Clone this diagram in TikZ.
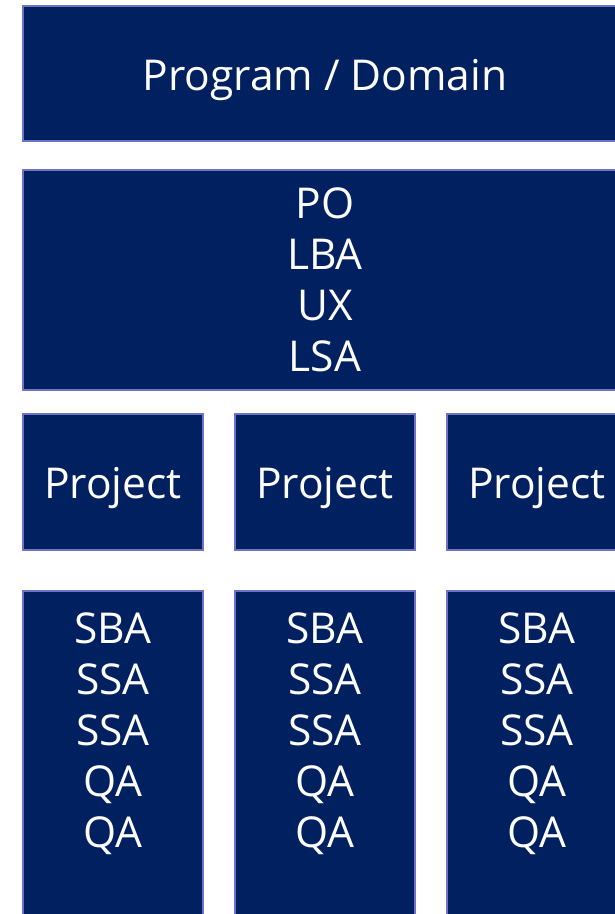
\documentclass[tikz,border=0pt]{standalone}
\usepackage{fontspec}
\setmainfont{Open Sans}
\usetikzlibrary{positioning}
\definecolor{navy}{HTML}{002060}
\definecolor{rim}{RGB}{112,114,200}

\begin{document}
\begin{tikzpicture}[x=1pt, y=-1pt,
    panel/.style={rectangle, draw=rim, line width=2pt, fill=navy, text=white, align=center,
      font=\fontsize{42.5}{51}\selectfont, inner sep=0pt, outer sep=0pt},
    wide/.style={panel, minimum width=604pt},
    oneline/.style={text height=36pt, text depth=3pt},
    project/.style={panel, oneline, minimum width=180pt, minimum height=136pt},
    stack/.style={panel, minimum width=180pt, minimum height=350pt},
    crew/.style={text=white, align=center, font=\fontsize{42.5}{51}\selectfont, inner sep=0pt, anchor=north}]
    \useasboundingbox (0,0) rectangle (615,914);

    % Program level
    \node[wide, oneline, minimum height=135pt] (prog) at (325,73.5) {Program / Domain};
    \node[wide, minimum height=220pt, below=29pt of prog] (roles) {PO\\LBA\\UX\\LSA};

    % Projects
    \node[project, below right=24pt and 0pt of roles.south west] (proj1) {Project};
    \node[project, right=32pt of proj1] (proj2) {Project};
    \node[project, right=32pt of proj2] (proj3) {Project};

    % Teams
    \node[stack, below=41pt of proj1] (stack1) {};
    \node[stack, below=41pt of proj2] (stack2) {};
    \node[stack, below=41pt of proj3] (stack3) {};
    \node[crew, below=22pt of stack1.north] (crew1) {SBA\\SSA\\SSA\\QA\\QA};
    \node[crew, below=22pt of stack2.north] (crew2) {SBA\\SSA\\SSA\\QA\\QA};
    \node[crew, below=22pt of stack3.north] (crew3) {SBA\\SSA\\SSA\\QA\\QA};
\end{tikzpicture}
\end{document}
